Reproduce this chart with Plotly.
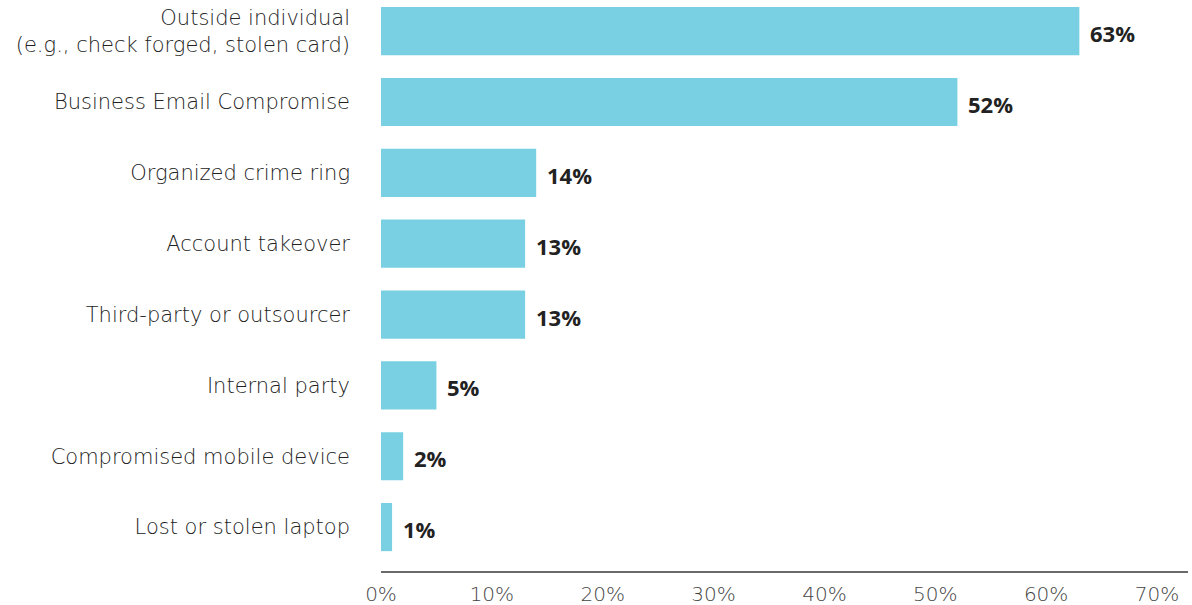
import plotly.graph_objects as go

# Sources of payments fraud, share of organizations
categories = [
    "Outside individual<br>(e.g., check forged, stolen card)",
    "Business Email Compromise",
    "Organized crime ring",
    "Account takeover",
    "Third-party or outsourcer",
    "Internal party",
    "Compromised mobile device",
    "Lost or stolen laptop",
]
values = [63, 52, 14, 13, 13, 5, 2, 1]
tick_values = [0, 10, 20, 30, 40, 50, 60, 70]
tick_labels = ["0%", "10%", "20%", "30%", "40%", "50%", "60%", "70%"]

BAR_COLOR = "#7ad0e3"
FONT = "DejaVu Sans"

fig = go.Figure(
    go.Bar(
        x=values,
        y=categories,
        orientation="h",
        marker=dict(color=BAR_COLOR, line=dict(width=0)),
        width=0.68,
        hoverinfo="skip",
    )
)

# value labels just past the end of each bar
for cat, val in zip(categories, values):
    fig.add_annotation(
        x=val, y=cat, text=f"{val}%",
        xanchor="left", yanchor="middle", xshift=9, yshift=-2,
        showarrow=False,
        font=dict(family="Open Sans", size=22, color="#222222", weight=700),
    )

fig.update_layout(
    width=1192, height=605,
    margin=dict(l=381, r=4, t=0, b=34),
    plot_bgcolor="white", paper_bgcolor="white",
    showlegend=False,
    font=dict(family=FONT, color="#333333"),
    bargap=0.32,
)
fig.update_xaxes(
    range=[0, 72.8],
    tickvals=tick_values, ticktext=tick_labels,
    showgrid=False, zeroline=False,
    showline=True, linecolor="#6a6a6a", linewidth=2,
    ticks="", tickfont=dict(family=FONT, size=20, color="#444444", weight=200),
    ticklabelstandoff=4,
    fixedrange=True,
)
fig.update_yaxes(
    categoryorder="array", categoryarray=categories,
    range=[7.62, -0.44],
    showgrid=False, zeroline=False, showline=False,
    ticks="", ticklabelstandoff=30,
    tickfont=dict(family=FONT, size=21, color="#222222", weight=200),
    fixedrange=True,
)

fig.write_html("out.html")
